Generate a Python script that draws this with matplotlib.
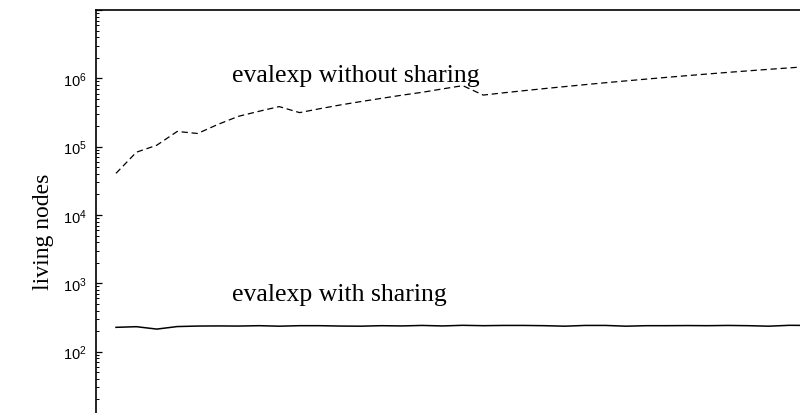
import numpy as np
import matplotlib
matplotlib.use('Agg')
import matplotlib.pyplot as plt
from matplotlib.ticker import LogLocator, FuncFormatter, NullFormatter

# living node counts per step
without_sharing = [40700, 83000, 105000, 167000, 156000, 212000, 278000, 329000,
                   386000, 315000, 360000, 408000, 457000, 509000, 566000, 624000,
                   700000, 782000, 569000, 614000, 660000, 708000, 757000, 809000,
                   863000, 918000, 975000, 1034000, 1095000, 1158000, 1223000,
                   1288000, 1355000, 1422000, 1494000]
with_sharing = [227, 232, 214, 233, 237, 238, 237, 240, 236, 240, 240, 237,
                236, 240, 238, 242, 238, 243, 240, 242, 242, 240, 236, 242,
                242, 236, 240, 240, 241, 240, 242, 240, 236, 243, 242]
steps = np.arange(len(without_sharing))

label_without = 'evalexp without sharing'
label_with = 'evalexp with sharing'
y_label = 'living nodes'

fig = plt.figure(figsize=(8, 4.14), dpi=100)
ax = fig.add_axes([0.12, -0.0169, 0.88, 0.9903])

ax.plot(steps, without_sharing, color='black', lw=0.9, linestyle=(0, (5, 3)))
ax.plot(steps, with_sharing, color='black', lw=1.1)

ax.set_yscale('log')
ax.set_ylim(10, 1e7)
ax.set_xlim(-0.98, 33.53)

ax.spines['right'].set_visible(False)
ax.spines['bottom'].set_visible(False)
ax.spines['left'].set_linewidth(1.2)
ax.spines['top'].set_linewidth(1.2)

ax.set_xticks([])
ax.yaxis.set_major_locator(LogLocator(base=10))
ax.yaxis.set_minor_locator(LogLocator(base=10, subs=np.arange(2, 10)))
ax.yaxis.set_minor_formatter(NullFormatter())
ax.yaxis.set_major_formatter(FuncFormatter(
    lambda v, pos: r'$\mathregular{10^{%d}}$' % round(np.log10(v)) if 100 <= v <= 1e6 else ''))
ax.tick_params(axis='y', which='major', direction='in', length=4, width=0.9,
               labelsize=10.5, pad=7)
ax.tick_params(axis='y', which='minor', direction='in', length=2.2, width=0.7)
for t in ax.get_yticklabels():
    t.set_fontfamily('Liberation Sans')

ax.text(5.69, 9.0e5, label_without, fontsize=18.5, family='Liberation Serif',
        va='baseline', ha='left')
ax.text(5.69, 570, label_with, fontsize=18.5, family='Liberation Serif',
        va='baseline', ha='left')

fig.text(43 / 800, 1 - 232 / 414, y_label, rotation=90, fontsize=17,
         family='Liberation Serif', ha='center', va='center')

fig.savefig('out.png', dpi=100)
